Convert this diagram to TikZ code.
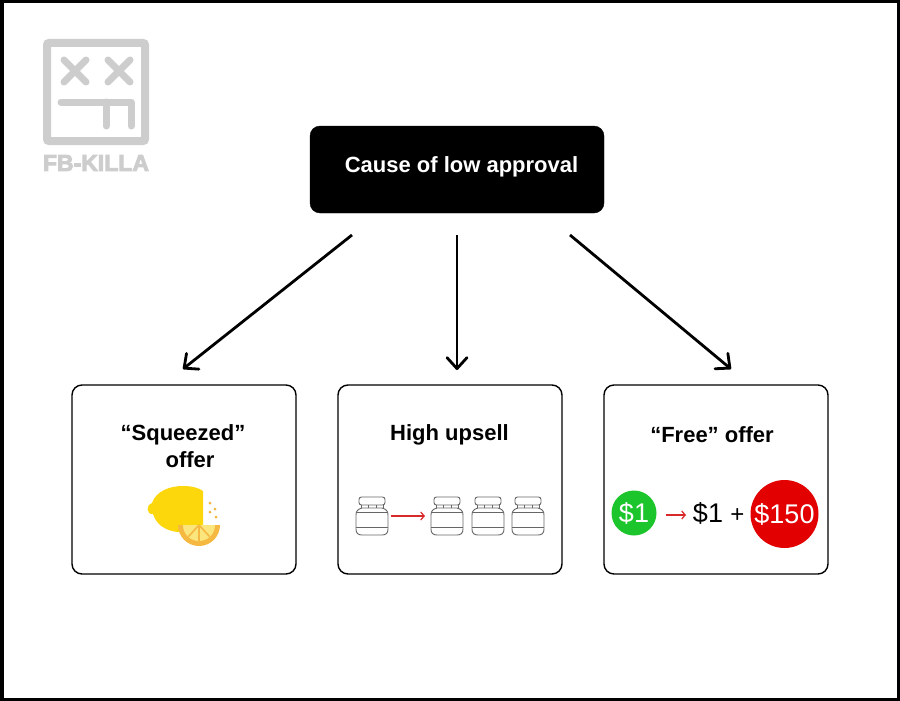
\documentclass[tikz,border=0pt]{standalone}
\usepackage{fontspec}
\setmainfont{Liberation Sans}
\usetikzlibrary{arrows.meta}
\definecolor{logogrey}{HTML}{CDCDCD}
\definecolor{lemony}{HTML}{FBD70B}
\definecolor{rindo}{HTML}{F5B942}
\definecolor{pulp}{HTML}{FBE57D}
\definecolor{dotc}{HTML}{F2B43A}
\definecolor{greenc}{HTML}{1DC52C}
\definecolor{redc}{HTML}{E30000}
\definecolor{arrowred}{HTML}{D9282A}
\definecolor{jarc}{HTML}{666666}
\tikzset{
  topbox/.style={draw=black,fill=black,rounded corners=10pt,minimum width=294pt,minimum height=87pt,inner sep=0pt},
  offerbox/.style={draw=black,line width=1.4pt,fill=white,rounded corners=10pt,minimum width=224pt,minimum height=189pt,inner sep=0pt},
  flow/.style={line width=2.8pt,-{Straight Barb[length=11pt,width=20pt,line width=2.8pt,round]}},
  redflow/.style={arrowred,line width=1.2pt,-{Straight Barb[length=3.5pt,width=8pt]}},
  title/.style={font=\fontsize{22}{26}\selectfont\bfseries,inner sep=0pt},
  money/.style={font=\fontsize{27}{30}\selectfont,inner sep=0pt},
  logoline/.style={logogrey,line width=7pt,line cap=round,line join=round},
  jarline/.style={jarc,line width=0.9pt},
  jar/.pic={
    \draw[jarline,rounded corners=2.5pt] (-13,-18) rectangle (13,-10);
    \draw[jarline] (-11,-10) -- (-11,-7) (11,-10) -- (11,-7)
      (-4,-10) -- (-4,-7) (4,-10) -- (4,-7);
    \draw[jarline] (-10,-7) -- (10,-7) .. controls (14,-6) and (16,-4) .. (16,0)
      -- (16,14) .. controls (16,18) and (14,20) .. (10,20) -- (-10,20)
      .. controls (-14,20) and (-16,18) .. (-16,14) -- (-16,0)
      .. controls (-16,-4) and (-14,-6) .. (-10,-7) -- cycle;
    \draw[jarline] (-15.5,-3) -- (15.5,-3) (-16,12) -- (16,12);
  }
}
\begin{document}
\begin{tikzpicture}[x=1pt,y=-1pt]
\useasboundingbox (0,0) rectangle (900,701);
\fill[white] (0,0) rectangle (900,701);
\draw[black,line width=3.5pt] (1.75,1.75) rectangle (898.25,699.25);

% logo
\draw[logogrey,line width=8pt,rounded corners=2pt] (47,43) rectangle (145,141);
\draw[logoline] (64,60) -- (86,82) (86,60) -- (64,82);
\draw[logoline] (108,60) -- (130,82) (130,60) -- (108,82);
\draw[logoline] (61,102) -- (131,102) -- (131,126);
\draw[logoline] (106,102) -- (106,126);
\node[logogrey,inner sep=0pt] (logotext) at (96,163) {\fontsize{23}{24}\selectfont\bfseries\special{pdf:code 2 Tr 0.9 w}FB-KILLA\special{pdf:code 0 Tr}};

% main nodes
\node[topbox] (top) at (457,169.5) {};
\node[text=white,title] (toptext) at (461.5,167) {Cause of low approval};
\node[offerbox] (left) at (184,479.5) {};
\node[offerbox] (mid) at (450,479.5) {};
\node[offerbox] (right) at (716,479.5) {};

% connectors
\coordinate (a1s) at (352,235); \coordinate (a1e) at (183,369);
\coordinate (a2s) at (457,235); \coordinate (a2e) at (457,370);
\coordinate (a3s) at (570,235); \coordinate (a3e) at (731,369);
\draw[flow] (a1s) -- (a1e);
\draw[flow] (a2s) -- (a2e);
\draw[flow] (a3s) -- (a3e);

% titles
\node[title] (t1a) at (183,435) {“Squeezed”};
\node[title] (t1b) at (190,460) {offer};
\node[title] (t2) at (449.5,435) {High upsell};
\node[title] (t3) at (712,435) {“Free” offer};

% lemon
\fill[lemony] (152,503) .. controls (156,491) and (170,486) .. (183,486)
  .. controls (192,486) and (199,488) .. (203,491) -- (203,525) -- (190,532)
  .. controls (170,534) and (157,527) .. (153,514) .. controls (146,515) and (146,504) .. (152,503) -- cycle;
\fill[rindo] (220,525) arc[start angle=0,end angle=180,radius=21] -- cycle;
\fill[pulp] (215,525) arc[start angle=0,end angle=180,radius=16] -- cycle;
\draw[rindo,line width=1.6pt] (199,525) -- (199,541) (199,525) -- (188.5,536.5) (199,525) -- (209.5,536.5);
\fill[dotc] (210,503) circle (1.5) (215,509) circle (1.5) (210,512) circle (1.5) (216,517) circle (1.5);

% jars
\pic at (372,515) {jar};
\pic at (447,515) {jar};
\pic at (488,515) {jar};
\pic at (528,515) {jar};
\coordinate (r1s) at (391,516); \coordinate (r1e) at (425,516);
\draw[redflow] (r1s) -- (r1e);

% dollars
\node[circle,fill=greenc,minimum size=45pt,inner sep=0pt,text=white,money] (g) at (634,513) {\$1};
\node[money] (one) at (708,513) {\$1};
\node[inner sep=0pt,font=\fontsize{24}{26}\selectfont] (plus) at (737.5,516) {+};
\node[circle,fill=redc,minimum size=68pt,inner sep=0pt,text=white,money] (r) at (784.5,514) {\$150};
\coordinate (r2s) at (666,515); \coordinate (r2e) at (686,515);
\draw[redflow] (r2s) -- (r2e);
\end{tikzpicture}
\end{document}
